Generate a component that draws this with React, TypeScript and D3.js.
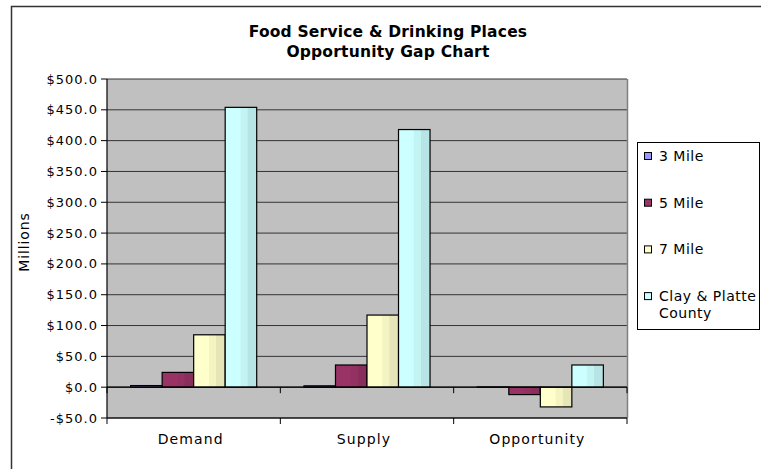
import React from "react";
import * as d3 from "d3";

const categories = ["Demand", "Supply", "Opportunity"];
const seriesNames = ["3 Mile", "5 Mile", "7 Mile", "Clay & Platte County"];
const legendLines = [["3 Mile"], ["5 Mile"], ["7 Mile"], ["Clay & Platte", "County"]];
const seriesColors = ["#9999FF", "#993366", "#FFFFCC", "#CCFFFF"];
const mile3 = [2.6, 2.2, 0.4];
const mile5 = [24, 36, -12];
const mile7 = [85, 117, -32];
const clayPlatte = [454, 418, 36];
const yTicks = [-50, 0, 50, 100, 150, 200, 250, 300, 350, 400, 450, 500];
const titleLines = ["Food Service & Drinking Places", "Opportunity Gap Chart"];
const yAxisTitle = "Millions";

const seriesValues = [mile3, mile5, mile7, clayPlatte];

const W = 761;
const H = 469;
const plot = { x0: 107, x1: 627, y0: 79, y1: 418 };
const FONT = "'DejaVu Sans', Verdana, sans-serif";

export default function App() {
  const x = d3.scaleBand<string>().domain(categories).range([plot.x0, plot.x1]).padding(0);
  const bw = x.bandwidth();
  const barW = bw / 5.5;
  const inner = d3
    .scaleBand<string>()
    .domain(seriesNames)
    .range([0.75 * barW, bw - 0.75 * barW])
    .padding(0);
  const y = d3.scaleLinear().domain([-50, 500]).range([plot.y1, plot.y0]);
  const y0 = y(0);
  const catBounds = [plot.x0, ...categories.map((c) => (x(c) as number) + bw)];

  return (
    <svg
      width={W}
      height={H}
      style={{ position: "absolute", left: 0, top: 0, background: "#fff", display: "block" }}
      fontFamily={FONT}
    >
      <defs>
        {seriesColors.map((c, i) => {
          const mid = d3.color(c)!.darker(0.12).formatHex();
          const dark = d3.color(c)!.darker(0.3).formatHex();
          return (
            <linearGradient key={i} id={`g${i}`} x1="0" x2="1" y1="0" y2="0">
              <stop offset="0" stopColor={c} />
              <stop offset="0.47" stopColor={c} />
              <stop offset="0.5" stopColor={mid} />
              <stop offset="0.7" stopColor={mid} />
              <stop offset="0.72" stopColor={dark} />
              <stop offset="1" stopColor={dark} />
            </linearGradient>
          );
        })}
      </defs>
      <rect x={0} y={0} width={W} height={H} fill="#fff" />
      {/* outer chart border (right and bottom edges lie outside the picture) */}
      <path d={`M11.5,${H} L11.5,6.5 L${W},6.5`} fill="none" stroke="#333" strokeWidth={1.5} />

      {/* title */}
      {titleLines.map((t, i) => (
        <text
          key={i}
          x={388}
          y={37 + i * 20}
          textAnchor="middle"
          fontSize={15.5}
          fontWeight="bold"
          fill="#000"
          letterSpacing={0.2}
        >
          {t}
        </text>
      ))}

      {/* plot background */}
      <rect x={plot.x0} y={plot.y0} width={plot.x1 - plot.x0} height={plot.y1 - plot.y0} fill="#C0C0C0" />
      {/* gridlines */}
      {yTicks.map((t) => (
        <line key={t} x1={plot.x0} x2={plot.x1} y1={y(t)} y2={y(t)} stroke="#333" strokeWidth={1} />
      ))}
      {/* right border */}
      <line x1={plot.x1 + 0.5} x2={plot.x1 + 0.5} y1={plot.y0} y2={plot.y1} stroke="#808080" strokeWidth={1.5} />

      {/* bars */}
      {seriesValues.map((vals, si) =>
        vals.map((v, ci) => {
          const bx = (x(categories[ci]) as number) + (inner(seriesNames[si]) as number);
          const top = Math.min(y(v), y0);
          const h = Math.abs(y(v) - y0);
          return (
            <rect
              key={`${si}-${ci}`}
              x={bx}
              y={top}
              width={inner.bandwidth()}
              height={h}
              fill={`url(#g${si})`}
              stroke="#000"
              strokeWidth={1.2}
            />
          );
        })
      )}

      {/* zero line */}
      <line x1={plot.x0} x2={plot.x1} y1={y0} y2={y0} stroke="#000" strokeWidth={1.2} />
      {/* bottom line */}
      <line x1={plot.x0} x2={plot.x1} y1={plot.y1} y2={plot.y1} stroke="#000" strokeWidth={1.2} />
      {/* y axis */}
      <line x1={plot.x0} x2={plot.x0} y1={plot.y0} y2={plot.y1} stroke="#000" strokeWidth={1.2} />
      {yTicks.map((t) => (
        <g key={t}>
          <line x1={plot.x0 - 6} x2={plot.x0} y1={y(t)} y2={y(t)} stroke="#000" strokeWidth={1} />
          <text x={plot.x0 - 9} y={y(t) + 4.5} textAnchor="end" fontSize={13} letterSpacing={1} fill="#000">
            {(t < 0 ? "-$" : "$") + Math.abs(t).toFixed(1)}
          </text>
        </g>
      ))}
      {/* x ticks */}
      {catBounds.map((b, i) => (
        <g key={i}>
          <line x1={b} x2={b} y1={plot.y1} y2={plot.y1 + 6} stroke="#000" strokeWidth={1} />
          <line x1={b} x2={b} y1={y0} y2={y0 + 6} stroke="#000" strokeWidth={1} />
        </g>
      ))}
      {categories.map((c) => (
        <text
          key={c}
          x={(x(c) as number) + bw / 2 - 3}
          y={444}
          textAnchor="middle"
          fontSize={14}
          letterSpacing={1.1}
          fill="#000"
        >
          {c}
        </text>
      ))}

      {/* y axis title */}
      <text
        transform={`translate(29, 242) rotate(-90)`}
        textAnchor="middle"
        fontSize={14}
        letterSpacing={0.9}
        fill="#000"
      >
        {yAxisTitle}
      </text>

      {/* legend */}
      <rect x={637.5} y={142.5} width={122} height={187} fill="#fff" stroke="#000" strokeWidth={1} />
      {legendLines.map((lines, i) => {
        const cy = 156 + i * 46.7;
        return (
          <g key={i}>
            <rect x={644.5} y={cy - 3.5} width={7} height={7} fill={seriesColors[i]} stroke="#000" strokeWidth={1} />
            {lines.map((ln, j) => (
              <text key={j} x={659} y={cy + 5 + j * 17} fontSize={14} letterSpacing={0.5} fill="#000">
                {ln}
              </text>
            ))}
          </g>
        );
      })}
    </svg>
  );
}
